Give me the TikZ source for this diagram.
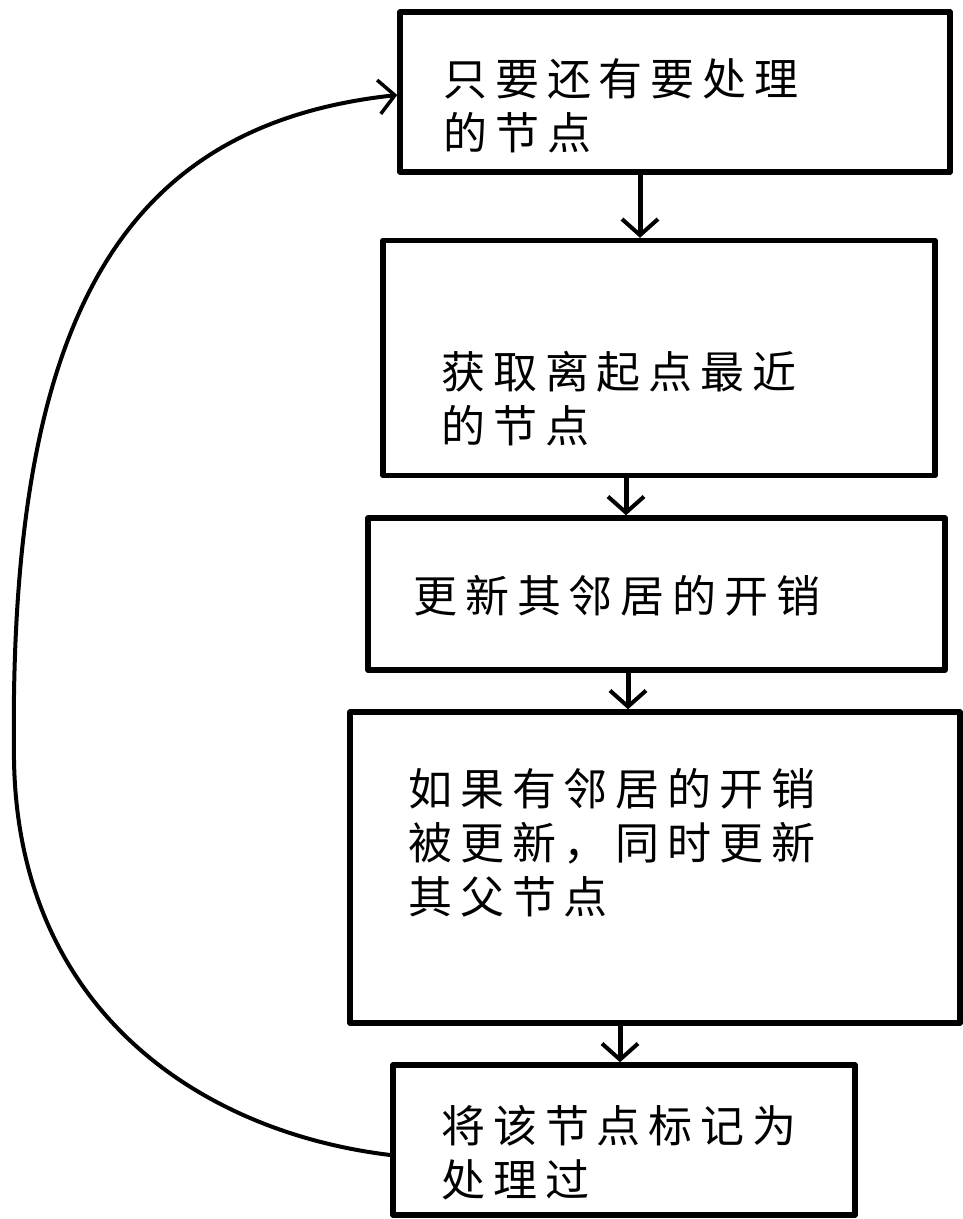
\documentclass[tikz,border=0pt]{standalone}
\usepackage{fontspec}
\setmainfont{Liberation Serif}
\newfontfamily\cjk[LetterSpace=18]{Noto Sans CJK SC}
\usetikzlibrary{arrows.meta,calc}
\begin{document}
\begin{tikzpicture}[x=1pt,y=1pt,
  box/.style={draw=black,line width=5.5pt,line join=round,inner sep=0pt},
  lbl/.style={anchor=north west,align=left,inner sep=0pt,font=\cjk\fontsize{44}{54}\selectfont},
  flow/.style={draw=black,line width=5pt,-{Straight Barb[length=16pt,width=36pt,line width=4pt]}},
  loop/.style={draw=black,line width=4pt,-{Straight Barb[length=16pt,width=34pt,line width=3.5pt]}}]
\useasboundingbox (0,0) rectangle (963,-1219);
% boxes
\node[box,minimum width=550pt,minimum height=160pt] (b1) at (675,-92) {};
\node[box,minimum width=552pt,minimum height=235pt] (b2) at (659,-358) {};
\node[box,minimum width=577pt,minimum height=152pt] (b3) at (656.5,-594) {};
\node[box,minimum width=610pt,minimum height=311pt] (b4) at (655,-867.5) {};
\node[box,minimum width=462pt,minimum height=150pt] (b5) at (624,-1140) {};
% texts
\node[lbl] (t1) at (443,-58) {只要还有要处理\\的节点};
\node[lbl] (t2) at (441,-351) {获取离起点最近\\的节点};
\node[lbl] (t3) at (413,-575) {更新其邻居的开销};
\node[lbl] (t4) at (408,-768) {如果有邻居的开销\\被更新，同时更新\\其父节点};
\node[lbl] (t5) at (441,-1105) {将该节点标记为\\处理过};
% arrow columns
\coordinate (c1) at (640,0);
\coordinate (c2) at (626,0);
\coordinate (c3) at (628,0);
\coordinate (c4) at (620,0);
\draw[flow] (b1.south -| c1) -- (b2.north -| c1);
\draw[flow] (b2.south -| c2) -- (b3.north -| c2);
\draw[flow] (b3.south -| c3) -- (b4.north -| c3);
\draw[flow] (b4.south -| c4) -- (b5.north -| c4);
% loop back
\coordinate (lm) at (14,-760);
\draw[loop] ([yshift=-15pt]b5.west) .. controls (200,-1132) and (18,-1010) .. (lm)
  .. controls (8,-320) and (120,-125) .. ([yshift=-3pt]b1.west);
\end{tikzpicture}
\end{document}
